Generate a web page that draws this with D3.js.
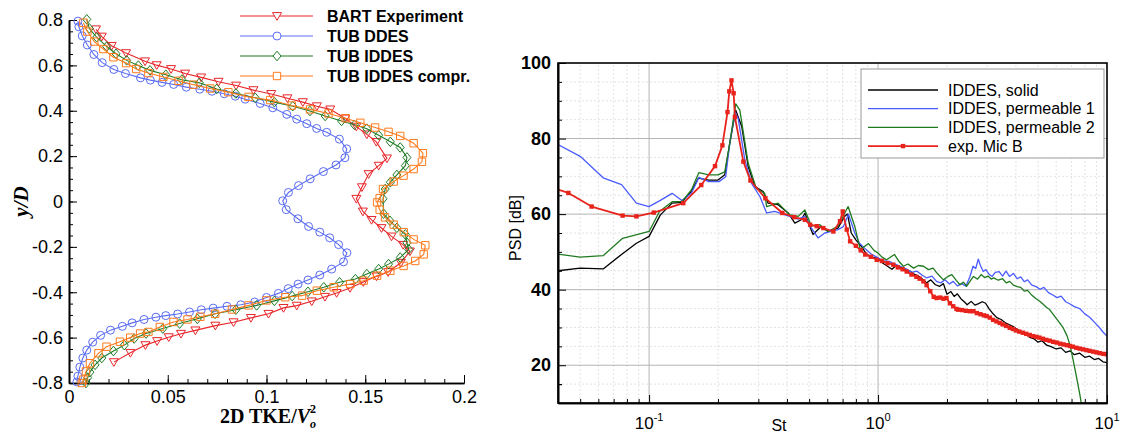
<!DOCTYPE html>
<html>
<head>
<meta charset="utf-8">
<script src="https://cdn.jsdelivr.net/npm/d3@7"></script>
<style>
  html, body { margin: 0; padding: 0; background: #fff; }
  svg { display: block; font-family: "Liberation Sans", Arial, Helvetica, sans-serif; }
</style>
</head>
<body>
<svg id="chart" width="1127" height="434"></svg>
<script>
(function () {
  "use strict";

  // ---------- left panel: 2D TKE profiles, [TKE, y/D] ----------
  const bartExperiment = [
    [0.0137, 0.759], [0.0166, 0.727], [0.0216, 0.686], [0.0289, 0.654], [0.0385, 0.618],
    [0.0444, 0.601], [0.0517, 0.584], [0.0588, 0.564], [0.0669, 0.547], [0.0757, 0.528],
    [0.0846, 0.511], [0.0934, 0.491], [0.1024, 0.474], [0.1106, 0.455], [0.1184, 0.438],
    [0.1255, 0.42], [0.1323, 0.406], [0.1399, 0.366], [0.1455, 0.33], [0.1508, 0.296],
    [0.1556, 0.263], [0.161, 0.19], [0.1568, 0.158], [0.1517, 0.121], [0.1483, 0.063],
    [0.1455, 0.012], [0.1488, -0.044], [0.1532, -0.081], [0.1582, -0.117], [0.1633, -0.154],
    [0.1692, -0.191], [0.1726, -0.22], [0.168, -0.27], [0.1616, -0.311], [0.1557, -0.33],
    [0.149, -0.355], [0.1423, -0.381], [0.1355, -0.403], [0.1296, -0.42], [0.1229, -0.44],
    [0.1153, -0.459], [0.1086, -0.469], [0.101, -0.495], [0.0921, -0.513], [0.0833, -0.532],
    [0.0741, -0.547], [0.064, -0.568], [0.0567, -0.583], [0.0505, -0.598], [0.0446, -0.615],
    [0.0387, -0.633], [0.0311, -0.667], [0.0227, -0.708]
  ];
  const tubDdes = [
    [0.0045, 0.795], [0.005, 0.77], [0.0067, 0.73], [0.0093, 0.69], [0.0126, 0.648], [0.0168, 0.612],
    [0.0227, 0.582], [0.0286, 0.564], [0.0362, 0.545], [0.0412, 0.535], [0.0471, 0.525],
    [0.053, 0.516], [0.0594, 0.504], [0.0662, 0.495], [0.0724, 0.486], [0.0786, 0.475],
    [0.0842, 0.464], [0.0892, 0.451], [0.0968, 0.432], [0.1032, 0.413], [0.1103, 0.384],
    [0.1153, 0.363], [0.1204, 0.343], [0.1254, 0.322], [0.1305, 0.305], [0.1369, 0.275],
    [0.1406, 0.232], [0.1397, 0.193], [0.1352, 0.161], [0.1288, 0.132], [0.1221, 0.1],
    [0.1162, 0.07], [0.1111, 0.04], [0.1082, 0.003], [0.11, -0.036], [0.1159, -0.076],
    [0.1213, -0.11], [0.127, -0.135], [0.132, -0.16], [0.1365, -0.19], [0.1407, -0.226],
    [0.139, -0.266], [0.133, -0.298], [0.127, -0.324], [0.121, -0.346], [0.116, -0.364],
    [0.111, -0.384], [0.106, -0.405], [0.1, -0.423], [0.094, -0.443], [0.087, -0.455],
    [0.08, -0.462], [0.073, -0.47], [0.067, -0.477], [0.061, -0.487], [0.055, -0.496],
    [0.049, -0.503], [0.044, -0.51], [0.038, -0.52], [0.032, -0.535], [0.027, -0.55],
    [0.021, -0.567], [0.016, -0.59], [0.012, -0.62], [0.009, -0.655], [0.007, -0.69],
    [0.0055, -0.73], [0.0045, -0.77], [0.004, -0.795]
  ];
  const tubIddes = [
    [0.009, 0.803], [0.0103, 0.763], [0.014, 0.724], [0.0191, 0.683], [0.0238, 0.651],
    [0.0292, 0.622], [0.0351, 0.599], [0.041, 0.578], [0.049, 0.559], [0.0571, 0.537],
    [0.066, 0.523], [0.0748, 0.496], [0.0845, 0.476], [0.0943, 0.457], [0.104, 0.438],
    [0.1133, 0.42], [0.122, 0.399], [0.1297, 0.377], [0.138, 0.355], [0.1445, 0.338],
    [0.1508, 0.321], [0.1568, 0.292], [0.1627, 0.263], [0.1677, 0.238], [0.1711, 0.194],
    [0.1703, 0.158], [0.166, 0.117], [0.1627, 0.085], [0.1601, 0.055], [0.159, 0.012],
    [0.1593, -0.054], [0.1625, -0.085], [0.166, -0.116], [0.1703, -0.145], [0.1711, -0.182],
    [0.172, -0.211], [0.1677, -0.247], [0.1618, -0.276], [0.1568, -0.298], [0.1508, -0.32],
    [0.145, -0.342], [0.137, -0.356], [0.129, -0.378], [0.121, -0.398], [0.113, -0.417],
    [0.104, -0.438], [0.095, -0.458], [0.0845, -0.477], [0.074, -0.495], [0.065, -0.517],
    [0.056, -0.538], [0.0475, -0.56], [0.039, -0.582], [0.033, -0.604], [0.028, -0.633],
    [0.0225, -0.659], [0.0166, -0.69], [0.0132, -0.72], [0.0106, -0.752], [0.0095, -0.776],
    [0.0086, -0.8]
  ];
  const tubIddesCompr = [
    [0.0073, 0.788], [0.0093, 0.749], [0.0128, 0.705], [0.0174, 0.672], [0.0225, 0.636],
    [0.0289, 0.61], [0.034, 0.584], [0.0402, 0.566], [0.0478, 0.549], [0.0555, 0.532],
    [0.063, 0.515], [0.0715, 0.498], [0.0807, 0.482], [0.0909, 0.461], [0.1019, 0.447],
    [0.1128, 0.423], [0.1221, 0.406], [0.1314, 0.388], [0.14, 0.367], [0.1475, 0.347],
    [0.155, 0.326], [0.1618, 0.307], [0.1677, 0.289], [0.1745, 0.257], [0.1792, 0.213],
    [0.1787, 0.175], [0.1745, 0.143], [0.1694, 0.114], [0.1644, 0.088], [0.159, 0.055],
    [0.1573, 0.015], [0.156, -0.004], [0.1573, -0.036], [0.16, -0.07], [0.1644, -0.102],
    [0.1695, -0.135], [0.1745, -0.167], [0.1804, -0.193], [0.1796, -0.233], [0.1753, -0.262],
    [0.1694, -0.284], [0.1627, -0.305], [0.156, -0.327], [0.1492, -0.349], [0.1424, -0.364],
    [0.134, -0.378], [0.1255, -0.393], [0.118, -0.415], [0.1095, -0.422], [0.1, -0.436],
    [0.0909, -0.458], [0.0825, -0.476], [0.074, -0.495], [0.0665, -0.508], [0.06, -0.52],
    [0.0529, -0.531], [0.046, -0.553], [0.0402, -0.575], [0.036, -0.582], [0.031, -0.6],
    [0.0258, -0.618], [0.019, -0.64], [0.0149, -0.669], [0.0106, -0.713], [0.0086, -0.749],
    [0.0073, -0.785], [0.0065, -0.8]
  ];
  const leftNames = ["BART Experiment", "TUB DDES", "TUB IDDES", "TUB IDDES compr."];
  const leftXTicks = [0, 0.05, 0.1, 0.15, 0.2];
  const leftYTicks = [-0.8, -0.6, -0.4, -0.2, 0, 0.2, 0.4, 0.6, 0.8];

  // ---------- right panel: PSD spectra, [St, dB] ----------
  const iddesSolid = [
    [0.04, 45.0], [0.05, 45.7], [0.063, 45.5], [0.076, 49.4], [0.088, 52.3], [0.1, 54.1],
    [0.112, 59.8], [0.126, 62.9], [0.139, 63.1], [0.153, 66.0], [0.164, 69.5], [0.182, 69.0],
    [0.2, 69.0], [0.214, 70.4], [0.225, 78.7], [0.239, 87.5], [0.254, 83.1], [0.271, 72.5],
    [0.29, 67.3], [0.315, 66.0], [0.331, 62.9], [0.366, 62.5], [0.405, 60.3], [0.433, 57.6],
    [0.462, 58.5], [0.48, 60.3], [0.494, 58.0], [0.52, 54.6], [0.565, 56.8], [0.604, 55.4],
    [0.668, 56.3], [0.714, 59.4], [0.735, 60.0], [0.764, 55.0], [0.8, 53.2], [0.845, 51.5],
    [0.893, 49.3], [0.95, 48.6], [1.0, 48.2], [1.05, 47.0], [1.1, 46.2], [1.15, 45.4],
    [1.2, 46.4], [1.25, 45.9], [1.32, 45.2], [1.38, 44.9], [1.43, 44.2], [1.5, 43.6],
    [1.56, 42.8], [1.63, 41.8], [1.7, 42.6], [1.78, 41.3], [1.86, 40.9], [1.93, 41.6],
    [2.0, 38.8], [2.08, 39.5], [2.15, 38.2], [2.22, 38.9], [2.3, 37.6], [2.38, 36.8],
    [2.45, 36.0], [2.55, 36.9], [2.65, 35.9], [2.75, 36.3], [2.85, 36.8], [2.95, 36.4],
    [3.05, 35.0], [3.15, 33.9], [3.3, 32.6], [3.45, 32.1], [3.6, 31.2], [3.75, 30.7],
    [3.9, 30.2], [4.05, 29.5], [4.2, 28.9], [4.4, 28.2], [4.6, 27.4], [4.8, 27.0],
    [5.0, 26.1], [5.2, 26.5], [5.45, 25.3], [5.7, 24.9], [6.0, 24.3], [6.3, 24.6],
    [6.6, 23.4], [6.9, 23.8], [7.2, 22.8], [7.6, 23.2], [8.0, 22.1], [8.4, 22.4],
    [8.8, 21.5], [9.2, 21.8], [9.6, 20.9], [10, 20.7]
  ];
  const iddesPermeable1 = [
    [0.04, 78.4], [0.05, 75.3], [0.063, 69.6], [0.0758, 67.8], [0.088, 62.9], [0.0998, 62.0],
    [0.111, 63.5], [0.126, 65.5], [0.139, 63.6], [0.153, 65.5], [0.165, 69.7], [0.182, 68.6],
    [0.202, 68.6], [0.216, 69.9], [0.225, 78.7], [0.237, 87.0], [0.245, 85.3], [0.262, 74.3],
    [0.28, 68.2], [0.305, 64.6], [0.326, 60.3], [0.354, 60.7], [0.392, 59.8], [0.448, 58.7],
    [0.479, 59.4], [0.512, 56.3], [0.547, 53.7], [0.585, 55.0], [0.625, 55.4], [0.668, 55.9],
    [0.706, 56.7], [0.743, 60.0], [0.791, 55.0], [0.83, 52.3], [0.873, 51.0], [0.93, 49.5],
    [1.0, 48.4], [1.06, 47.6], [1.12, 47.5], [1.18, 46.8], [1.25, 46.2], [1.32, 45.6],
    [1.4, 44.6], [1.48, 44.9], [1.56, 43.8], [1.63, 43.1], [1.72, 43.6], [1.8, 42.2],
    [1.88, 41.8], [1.96, 42.6], [2.05, 41.5], [2.13, 42.2], [2.22, 41.0], [2.32, 41.6],
    [2.42, 40.9], [2.52, 43.5], [2.6, 46.2], [2.67, 45.6], [2.74, 48.1], [2.8, 46.4],
    [2.88, 44.8], [2.96, 45.3], [3.05, 44.1], [3.15, 43.5], [3.25, 44.6], [3.38, 44.8],
    [3.5, 43.6], [3.62, 44.9], [3.75, 43.5], [3.9, 44.3], [4.05, 42.9], [4.2, 43.4],
    [4.35, 42.1], [4.5, 42.6], [4.7, 41.2], [4.9, 40.8], [5.1, 40.1], [5.3, 40.6],
    [5.55, 39.2], [5.8, 38.6], [6.05, 37.9], [6.3, 38.3], [6.6, 36.8], [6.9, 36.2],
    [7.2, 35.5], [7.6, 35.0], [8.0, 33.6], [8.4, 32.7], [8.8, 31.4], [9.2, 30.2],
    [9.6, 28.8], [10, 27.7]
  ];
  const iddesPermeable2 = [
    [0.04, 49.4], [0.05, 48.6], [0.063, 49.0], [0.0766, 53.6], [0.1, 55.4], [0.111, 60.7],
    [0.126, 63.3], [0.139, 63.3], [0.153, 66.4], [0.165, 71.0], [0.182, 70.4], [0.2, 70.4],
    [0.214, 71.2], [0.225, 78.7], [0.239, 89.2], [0.249, 87.5], [0.271, 73.4], [0.294, 66.8],
    [0.32, 65.5], [0.326, 62.0], [0.366, 62.9], [0.411, 59.8], [0.448, 59.4], [0.479, 61.1],
    [0.512, 56.8], [0.556, 57.2], [0.604, 55.4], [0.668, 56.8], [0.74, 62.0], [0.791, 56.8],
    [0.836, 50.6], [0.908, 52.2], [0.96, 50.4], [1.0, 49.7], [1.04, 48.6], [1.09, 47.9],
    [1.14, 48.7], [1.18, 49.3], [1.23, 47.6], [1.29, 46.2], [1.35, 46.8], [1.43, 45.7],
    [1.5, 46.4], [1.58, 46.2], [1.66, 45.3], [1.74, 45.7], [1.82, 44.2], [1.93, 42.6],
    [2.02, 43.5], [2.1, 44.0], [2.2, 42.4], [2.28, 41.3], [2.36, 42.0], [2.44, 40.9],
    [2.52, 42.2], [2.61, 43.5], [2.72, 42.8], [2.82, 44.0], [2.92, 43.2], [3.02, 43.6],
    [3.12, 42.8], [3.2, 43.1], [3.35, 42.5], [3.5, 42.9], [3.63, 41.8], [3.76, 42.2],
    [3.9, 41.2], [4.05, 40.8], [4.2, 40.6], [4.35, 39.6], [4.5, 39.8], [4.7, 38.5],
    [4.9, 37.6], [5.07, 37.0], [5.25, 36.2], [5.45, 35.3], [5.6, 34.8], [5.8, 33.6],
    [6.0, 32.4], [6.2, 31.3], [6.45, 29.8], [6.7, 27.7], [6.9, 25.2], [7.1, 21.6],
    [7.3, 18.0], [7.45, 15.2], [7.6, 12.4], [7.72, 10.0], [7.85, 6.0]
  ];
  const expMicB = [
    [0.04, 66.5], [0.0444, 65.6], [0.0561, 62.0], [0.0766, 59.6], [0.088, 59.4], [0.1048, 60.4],
    [0.141, 62.9], [0.169, 67.7], [0.194, 72.7], [0.209, 78.2], [0.22, 87.0], [0.224, 92.5],
    [0.229, 95.4], [0.234, 92.0], [0.237, 85.7], [0.258, 73.9], [0.277, 68.9], [0.322, 64.2],
    [0.382, 60.3], [0.43, 59.2], [0.479, 58.5], [0.505, 57.2], [0.54, 56.8], [0.577, 56.3],
    [0.638, 55.4], [0.682, 58.1], [0.701, 60.7], [0.73, 55.9], [0.755, 52.8], [0.8, 51.6],
    [0.84, 50.4], [0.879, 49.3], [0.93, 48.7], [0.987, 47.9], [1.04, 47.6], [1.1, 47.0],
    [1.166, 46.6], [1.22, 45.9], [1.28, 45.4], [1.334, 44.8], [1.4, 44.0], [1.47, 43.4],
    [1.52, 42.9], [1.577, 42.2], [1.63, 41.2], [1.69, 39.6], [1.75, 38.1], [1.8, 37.8],
    [1.87, 37.9], [1.93, 37.6], [1.99, 37.8], [2.06, 36.4], [2.13, 35.6], [2.2, 34.9],
    [2.24, 34.7], [2.33, 34.6], [2.42, 34.4], [2.52, 34.3], [2.61, 34.3], [2.7, 33.8],
    [2.8, 33.5], [2.9, 33.2], [2.98, 33.0], [3.08, 32.6], [3.18, 32.0], [3.29, 31.6],
    [3.4, 31.2], [3.5, 30.8], [3.63, 30.4], [3.76, 29.9], [3.88, 29.6], [4.0, 29.2],
    [4.14, 28.9], [4.29, 28.6], [4.44, 28.3], [4.6, 28.0], [4.76, 27.7], [4.92, 27.5],
    [5.07, 27.3], [5.25, 27.0], [5.43, 26.7], [5.62, 26.5], [5.82, 26.2], [6.03, 26.0],
    [6.24, 25.7], [6.46, 25.5], [6.68, 25.3], [6.9, 25.1], [7.1, 24.9], [7.35, 24.6],
    [7.6, 24.4], [7.86, 24.2], [8.13, 24.0], [8.4, 23.8], [8.7, 23.6], [9.0, 23.4],
    [9.3, 23.2], [9.65, 23.0], [10, 22.9]
  ];
  const rightNames = ["IDDES, solid", "IDDES, permeable 1", "IDDES, permeable 2", "exp. Mic B"];
  const rightYTicks = [20, 40, 60, 80, 100];
  const rightXTicks = [0.1, 1, 10];
  const rightXTickExp = ["-1", "0", "1"];

  const svg = d3.select("#chart");

  // ================= left panel =================
  const xL = d3.scaleLinear().domain([0, 0.2]).range([69, 464]);
  const yL = d3.scaleLinear().domain([-0.8, 0.8]).range([383, 20]);
  const gL = svg.append("g");

  function styleAxis(sel, size, weight) {
    sel.select(".domain").attr("stroke", "#000").attr("stroke-width", 1.6);
    sel.selectAll(".tick line").attr("stroke", "#000").attr("stroke-width", 1);
    sel.attr("font-family", null).attr("font-size", null);
    sel.selectAll(".tick text")
      .attr("fill", "#000")
      .attr("font-size", size || 17)
      .attr("font-weight", weight || "normal");
  }

  // minor ticks first, then major
  gL.append("g")
    .attr("transform", `translate(0,${yL(-0.8)})`)
    .call(d3.axisBottom(xL).tickValues(d3.range(0, 0.2001, 0.01)).tickSize(-4).tickSizeOuter(0).tickFormat(""))
    .call(styleAxis);
  gL.append("g")
    .attr("transform", `translate(0,${yL(-0.8)})`)
    .call(d3.axisBottom(xL).tickValues(leftXTicks).tickSize(-8).tickSizeOuter(0).tickPadding(7).tickFormat((d) => String(d)))
    .call(styleAxis, 18);
  gL.append("g")
    .attr("transform", `translate(${xL(0)},0)`)
    .call(d3.axisLeft(yL).tickValues(d3.range(-0.8, 0.8001, 0.05)).tickSize(-4).tickSizeOuter(0).tickFormat(""))
    .call(styleAxis);
  gL.append("g")
    .attr("transform", `translate(${xL(0)},0)`)
    .call(d3.axisLeft(yL).tickValues(leftYTicks).tickSize(-8).tickSizeOuter(0).tickPadding(6).tickFormat((d) => String(d)))
    .call(styleAxis, 18);

  // axis titles
  gL.append("text")
    .attr("transform", `translate(28,${yL(0)}) rotate(-90)`)
    .attr("text-anchor", "middle")
    .attr("font-family", '"Liberation Serif", "Times New Roman", serif')
    .attr("font-weight", "bold")
    .attr("font-style", "italic")
    .attr("font-size", 21)
    .text("y/D");

  const xTitle = gL.append("text")
    .attr("x", 268)
    .attr("y", 423)
    .attr("text-anchor", "middle")
    .attr("font-family", '"Liberation Serif", "Times New Roman", serif')
    .attr("font-weight", "bold")
    .attr("font-size", 20);
  xTitle.append("tspan").text("2D TKE/");
  xTitle.append("tspan").attr("font-style", "italic").text("V");
  xTitle.append("tspan").attr("font-size", 12).attr("font-style", "italic").attr("dy", 5).text("o");
  xTitle.append("tspan").attr("font-size", 12).attr("dx", -6).attr("dy", -15).text("2");

  const leftSeries = [
    { name: leftNames[0], data: bartExperiment, color: "#e8262b", marker: "triangle" },
    { name: leftNames[1], data: tubDdes, color: "#5a6cf2", marker: "circle" },
    { name: leftNames[2], data: tubIddes, color: "#1f7d26", marker: "diamond" },
    { name: leftNames[3], data: tubIddesCompr, color: "#ff7a1c", marker: "square" }
  ];

  function markerPath(kind) {
    if (kind === "triangle") return "M-4.5,-3.4L4.5,-3.4L0,4.3Z";
    if (kind === "diamond") return "M0,-4.8L4,0L0,4.8L-4,0Z";
    if (kind === "square") return "M-3.7,-3.7H3.7V3.7H-3.7Z";
    return "M4,0A4,4 0 1,1 -4,0A4,4 0 1,1 4,0Z";
  }

  const lineL = d3.line().x((d) => xL(d[0])).y((d) => yL(d[1]));

  leftSeries.forEach((s) => {
    const g = gL.append("g");
    g.append("path")
      .attr("d", lineL(s.data))
      .attr("fill", "none")
      .attr("stroke", s.color)
      .attr("stroke-width", 1.1);
    g.selectAll("path.mk")
      .data(s.data)
      .enter()
      .append("path")
      .attr("class", "mk")
      .attr("d", markerPath(s.marker))
      .attr("transform", (d) => `translate(${xL(d[0])},${yL(d[1])})`)
      .attr("fill", "none")
      .attr("stroke", s.color)
      .attr("stroke-width", 1);
  });

  // left legend
  leftSeries.forEach((s, i) => {
    const y = 16 + i * 20;
    gL.append("line")
      .attr("x1", 240).attr("x2", 313).attr("y1", y).attr("y2", y)
      .attr("stroke", s.color).attr("stroke-width", 1.1);
    gL.append("path")
      .attr("d", markerPath(s.marker))
      .attr("transform", `translate(277,${y})`)
      .attr("fill", "#fff")
      .attr("stroke", s.color);
    gL.append("text")
      .attr("x", 327).attr("y", y)
      .attr("dy", "0.35em")
      .attr("font-weight", "bold")
      .attr("font-size", 16)
      .text(s.name);
  });

  // ================= right panel =================
  const xR = d3.scaleLog().domain([0.04, 10]).range([558, 1107]);
  const yR = d3.scaleLinear().domain([10, 100]).range([403, 63]);
  const gR = svg.append("g");

  const minorX = [0.05, 0.06, 0.07, 0.08, 0.09, 0.2, 0.3, 0.4, 0.5, 0.6, 0.7, 0.8, 0.9,
    2, 3, 4, 5, 6, 7, 8, 9];
  const minorY = d3.range(15, 100, 5).filter((v) => v % 20 !== 0);

  // grid
  gR.append("g").selectAll("line")
    .data(minorX).enter().append("line")
    .attr("x1", (d) => xR(d)).attr("x2", (d) => xR(d))
    .attr("y1", yR(10)).attr("y2", yR(100))
    .attr("stroke", "#dcdcdc").attr("stroke-width", 0.8).attr("stroke-dasharray", "2,2");
  gR.append("g").selectAll("line")
    .data(minorY).enter().append("line")
    .attr("x1", xR(0.04)).attr("x2", xR(10))
    .attr("y1", (d) => yR(d)).attr("y2", (d) => yR(d))
    .attr("stroke", "#dcdcdc").attr("stroke-width", 0.8).attr("stroke-dasharray", "2,2");
  gR.append("g").selectAll("line")
    .data([0.1, 1]).enter().append("line")
    .attr("x1", (d) => xR(d)).attr("x2", (d) => xR(d))
    .attr("y1", yR(10)).attr("y2", yR(100))
    .attr("stroke", "#b4b4b4").attr("stroke-width", 1);
  gR.append("g").selectAll("line")
    .data([20, 40, 60, 80]).enter().append("line")
    .attr("x1", xR(0.04)).attr("x2", xR(10))
    .attr("y1", (d) => yR(d)).attr("y2", (d) => yR(d))
    .attr("stroke", "#b4b4b4").attr("stroke-width", 1);

  // curves
  svg.append("defs").append("clipPath").attr("id", "plotClip")
    .append("rect")
    .attr("x", xR(0.04)).attr("y", yR(100))
    .attr("width", xR(10) - xR(0.04)).attr("height", yR(10) - yR(100));

  const rightSeries = [
    { name: rightNames[0], data: iddesSolid, color: "#000000", width: 1.3 },
    { name: rightNames[1], data: iddesPermeable1, color: "#4a5cff", width: 1.3 },
    { name: rightNames[2], data: iddesPermeable2, color: "#1f7a1f", width: 1.3 },
    { name: rightNames[3], data: expMicB, color: "#e8231c", width: 1.8, markers: true }
  ];

  const lineR = d3.line().x((d) => xR(d[0])).y((d) => yR(d[1]));
  const curves = gR.append("g").attr("clip-path", "url(#plotClip)");

  rightSeries.forEach((s) => {
    curves.append("path")
      .attr("d", lineR(s.data))
      .attr("fill", "none")
      .attr("stroke", s.color)
      .attr("stroke-width", s.width)
      .attr("stroke-linejoin", "round");
    if (s.markers) {
      curves.selectAll("rect.mk")
        .data(s.data.slice(1))
        .enter()
        .append("rect")
        .attr("class", "mk")
        .attr("x", (d) => xR(d[0]) - 2.2)
        .attr("y", (d) => yR(d[1]) - 2.2)
        .attr("width", 4.4)
        .attr("height", 4.4)
        .attr("fill", s.color);
    }
  });

  // axes (inward ticks)
  gR.append("g")
    .attr("transform", `translate(0,${yR(10)})`)
    .call(d3.axisBottom(xR).tickValues(minorX).tickSize(-4).tickSizeOuter(0).tickFormat(""))
    .call(styleAxis);
  gR.append("g")
    .attr("transform", `translate(0,${yR(10)})`)
    .call(d3.axisBottom(xR).tickValues(rightXTicks).tickSize(-8).tickSizeOuter(0).tickFormat(""))
    .call(styleAxis);
  gR.append("g")
    .attr("transform", `translate(${xR(0.04)},0)`)
    .call(d3.axisLeft(yR).tickValues(minorY.concat([15])).tickSize(-4).tickSizeOuter(0).tickFormat(""))
    .call(styleAxis);
  gR.append("g")
    .attr("transform", `translate(${xR(0.04)},0)`)
    .call(d3.axisLeft(yR).tickValues(rightYTicks).tickSize(-8).tickSizeOuter(0).tickPadding(7).tickFormat((d) => String(d)))
    .call(styleAxis, 18, "bold");

  // frame
  gR.append("rect")
    .attr("x", xR(0.04)).attr("y", yR(100))
    .attr("width", xR(10) - xR(0.04)).attr("height", yR(10) - yR(100))
    .attr("fill", "none").attr("stroke", "#000").attr("stroke-width", 1.6);

  // log tick labels
  rightXTicks.forEach((v, i) => {
    const t = gR.append("text")
      .attr("x", xR(v)).attr("y", 429)
      .attr("text-anchor", "middle")
      .attr("font-size", 17);
    t.append("tspan").text("10");
    t.append("tspan").attr("font-size", 11).attr("dy", -8).text(rightXTickExp[i]);
  });

  gR.append("text")
    .attr("x", 779).attr("y", 431)
    .attr("text-anchor", "middle")
    .attr("font-size", 16)
    .text("St");

  gR.append("text")
    .attr("transform", `translate(521,228) rotate(-90)`)
    .attr("text-anchor", "middle")
    .attr("font-size", 16)
    .text("PSD [dB]");

  // legend
  const leg = gR.append("g");
  leg.append("rect")
    .attr("x", 861).attr("y", 69).attr("width", 243).attr("height", 89)
    .attr("fill", "#fff").attr("stroke", "#999").attr("stroke-width", 1);
  rightSeries.forEach((s, i) => {
    const y = 90 + i * 18.7;
    leg.append("line")
      .attr("x1", 868).attr("x2", 938).attr("y1", y).attr("y2", y)
      .attr("stroke", s.color).attr("stroke-width", s.width);
    if (s.markers) {
      leg.append("rect")
        .attr("x", 903 - 2.2).attr("y", y - 2.2).attr("width", 4.4).attr("height", 4.4)
        .attr("fill", s.color);
    }
    leg.append("text")
      .attr("x", 948).attr("y", y)
      .attr("dy", "0.35em")
      .attr("font-size", 16)
      .text(s.name);
  });
})();
</script>
</body>
</html>
